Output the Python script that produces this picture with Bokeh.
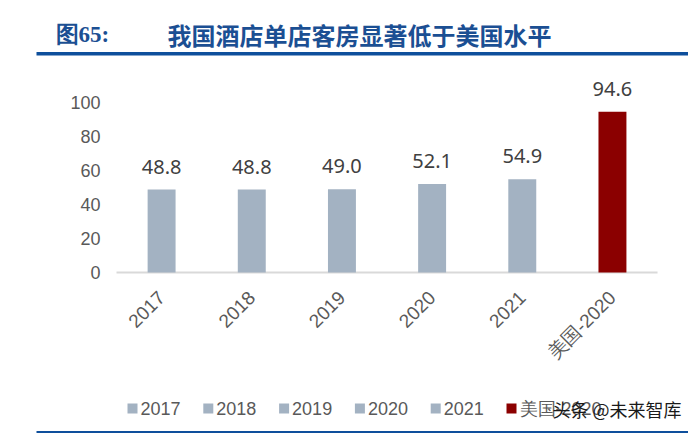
import math
from bokeh.plotting import figure
from bokeh.models import ColumnDataSource, Range1d
from bokeh.core.properties import value
from bokeh.embed import file_html
from bokeh.resources import INLINE

# ---- data ----
categories = ["2017", "2018", "2019", "2020", "2021", "美国-2020"]
values = [48.8, 48.8, 49.0, 52.1, 54.9, 94.6]
value_labels = ["48.8", "48.8", "49.0", "52.1", "54.9", "94.6"]
bar_colors = ["#A3B2C2", "#A3B2C2", "#A3B2C2", "#A3B2C2", "#A3B2C2", "#8B0000"]
y_ticks = [0, 20, 40, 60, 80, 100]
y_tick_labels = ["0", "20", "40", "60", "80", "100"]
title_num = "图65:"
title_text = "我国酒店单店客房显著低于美国水平"
watermark = "头条 @未来智库"

# ---- layout constants (pixels of the 688x433 canvas) ----
W, H = 688, 433
X0_PX, STEP_PX = 161.1, 90.17   # centre of first category, category pitch
Y0_PX, PXU = 272.0, 1.7         # baseline pixel row, px per y unit
BLUE = "#1B4F93"
LINE_BLUE = "#0E4F9C"
GRAY_TXT = "#595959"
n = len(categories)


def X(px):
    return (px - X0_PX) / STEP_PX


def Y(py):
    return (Y0_PX - py) / PXU


p = figure(width=W, height=H, output_backend="svg", toolbar_location=None,
           x_range=Range1d(X(0), X(W)), y_range=Range1d(Y(H), Y(0)),
           x_axis_type=None, y_axis_type=None,
           min_border=0, min_border_left=0, min_border_right=0,
           min_border_top=0, min_border_bottom=0)
p.outline_line_color = None
p.grid.visible = False
p.background_fill_color = "white"
p.border_fill_color = "white"

src = ColumnDataSource(dict(x=list(range(n)), top=values, color=bar_colors,
                            lbl=value_labels, cat=categories))

# axis baseline
p.segment(x0=[-0.5], y0=[0], x1=[n - 0.5], y1=[0], line_color="#D9D9D9", line_width=2)

# bars
p.vbar(x="x", top="top", bottom=0, width=0.31, color="color", line_color=None, source=src)

# value labels
p.text(x="x", y="top", text="lbl", source=src, y_offset=-23,
       text_align="center", text_baseline="middle",
       text_font=value("Noto Sans"), text_font_size=value("20px"),
       text_color="#404040")

# y tick labels
p.text(x=[X(100)] * len(y_ticks), y=y_ticks, text=y_tick_labels,
       text_align="right", text_baseline="middle",
       text_font=value("Liberation Sans"), text_font_size=value("18px"),
       text_color=GRAY_TXT)

# x tick labels (rotated 45 degrees)
p.text(x="x", y=0, text="cat", source=src, angle=math.pi / 4, y_offset=22, x_offset=0,
       text_align="right", text_baseline="middle",
       text_font=value("Liberation Sans"), text_font_size=value("19px"),
       text_color=GRAY_TXT)

# title strip
p.text(x=[X(55)], y=[Y(34)], text=[title_num], text_font=value("Liberation Serif"),
       text_font_style="bold", text_font_size=value("23px"), text_color=BLUE,
       text_baseline="middle", text_align="left")
p.text(x=[X(167)], y=[Y(34)], text=[title_text], text_font=value("Noto Sans CJK SC"),
       text_font_style="bold", text_font_size=value("24px"), text_color=BLUE,
       text_baseline="middle", text_align="left")
p.quad(left=[X(36)], right=[X(W)], top=[Y(51.5)], bottom=[Y(55)],
       fill_color=LINE_BLUE, line_color=None)

# legend
LEG_X0, LEG_STEP, LEG_Y = 132, 75.8, 408
leg_x = [X(LEG_X0 + i * LEG_STEP) for i in range(n)]
leg_tx = [X(LEG_X0 + i * LEG_STEP + 8) for i in range(n)]
p.scatter(x=leg_x, y=[Y(LEG_Y)] * n, marker="square", size=10, fill_color=bar_colors,
          line_color=None)
p.text(x=leg_tx, y=[Y(LEG_Y)] * n, text=categories,
       text_font=value("Liberation Sans"), text_font_size=value("18px"),
       text_color=GRAY_TXT, text_baseline="middle", text_align="left")

# watermark
p.text(x=[X(552)], y=[Y(LEG_Y)], text=[watermark], text_font=value("Noto Sans CJK SC"),
       text_font_size=value("18px"), text_color="#1A1A1A",
       text_baseline="middle", text_align="left")

# bottom rule
p.quad(left=[X(36)], right=[X(W)], top=[Y(430.5)], bottom=[Y(433)],
       fill_color=LINE_BLUE, line_color=None)

open("out.html", "w").write(file_html(p, INLINE))
